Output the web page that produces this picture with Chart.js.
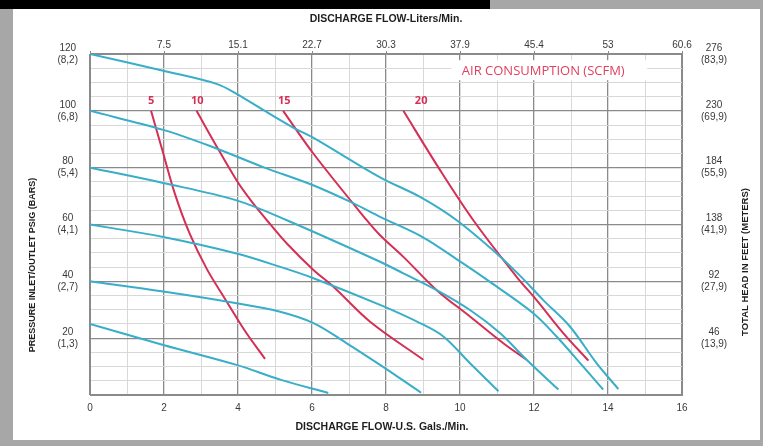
<!DOCTYPE html>
<html>
<head>
<meta charset="utf-8">
<script src="https://cdn.jsdelivr.net/npm/chart.js@4.4.1/dist/chart.umd.min.js"></script>
<style>
  html, body { margin: 0; padding: 0; }
  body { width: 763px; height: 446px; background: #a7a7a7; position: relative; overflow: hidden; }
  #topbar { position: absolute; left: 0; top: 0; width: 490px; height: 9px; background: #000; }
  #panel { position: absolute; left: 13px; top: 9px; width: 747px; height: 431px; background: #fff; }
  #wrap { position: absolute; left: 0; top: 0; width: 763px; height: 446px; }
</style>
</head>
<body>
<div id="topbar"></div>
<div id="panel"></div>
<div id="wrap"><canvas id="chart"></canvas></div>
<script>
// head curves, [gpm, psig]
const curve120 = [[0,120],[1.98,114.1],[3.42,109.5],[3.96,106],[4.68,100.3],[5.49,94.1],[6.03,90.6],[7.84,76.6],[8.92,69.7],[9.91,61.5],[10.99,49.8],[11.62,42],[12.25,33.4],[12.97,24.1],[13.69,11.2],[14.28,2.1]];
const curve100 = [[0,100],[1.98,93.3],[3.33,87.2],[4.68,80.2],[6.03,73.8],[7.11,67.5],[7.84,62.7],[9,55.5],[10,47],[10.81,39.8],[11.98,28.8],[12.61,20.6],[13.33,10],[13.87,1.9]];
const curve80 = [[0,80],[1.98,74.6],[3.96,68.5],[5.32,61.5],[7.84,46.9],[8.47,42.8],[9.37,36.9],[10.27,29.9],[11.08,21.8],[11.8,12.4],[12.66,1.9]];
const curve60 = [[0,60],[1.98,55.6],[3.96,49.8],[5.14,45.1],[6.04,41.1],[7.84,31.7],[8.92,25.3],[9.55,20.6],[10.27,11.2],[11.04,1.3]];
const curve40 = [[0,40],[1.98,36.4],[3.96,32.3],[5.14,29.3],[6.04,25.3],[6.94,18.2],[7.84,10.6],[8.95,0.8]];
const curve20 = [[0,25],[1.98,17.6],[3.96,10.6],[5.14,5.4],[6.44,0.7]];

// air consumption curves (SCFM)
const air5 = [[1.65,100],[1.95,86.4],[2.3,70.6],[2.7,56.6],[3.16,44.3],[3.65,33.8],[4.19,22.5],[4.73,12.7]];
const air10 = [[2.88,100],[3.33,89.6],[3.96,75.6],[4.41,67.4],[4.78,61.5],[5.32,53.3],[6.04,44],[6.58,38.1],[7.57,25.8],[9.01,12.4]];
const air15 = [[5.22,100],[6.04,84.9],[7.48,61.5],[7.84,56.2],[8.47,48.6],[9.37,36.9],[10.27,27.6],[11.17,18.2],[11.8,12.4]];
const air20 = [[8.47,100],[9.41,80.2],[10.36,61.5],[11.53,41.6],[12.07,33.4],[12.79,21.8],[13.47,12.1]];

const airLabels = ['5', '10', '15', '20'];
const airLabelGpm = [1.65, 2.9, 5.25, 8.95];

// tick labels
const litersLabels = ['7.5', '15.1', '22.7', '30.3', '37.9', '45.4', '53', '60.6'];
const barLabels = ['(1,3)', '(2,7)', '(4,1)', '(5,4)', '(6,8)', '(8,2)'];
const feetLabels = ['46', '92', '138', '184', '230', '276'];
const meterLabels = ['(13,9)', '(27,9)', '(41,9)', '(55,9)', '(69,9)', '(83,9)'];

const BLUE = '#38aec8';
const RED = '#d42f55';
const MAJOR = '#8a8a8a';
const MINOR = '#d8d8d8';

Chart.defaults.font.family = '"Liberation Sans", Arial, sans-serif';
Chart.defaults.color = '#3a3a3a';

const toXY = (pts) => pts.map(([x, y]) => ({ x, y }));
const line = (pts, color) => ({
  data: toXY(pts),
  borderColor: color,
  borderWidth: 2,
  pointRadius: 0,
  showLine: true,
  tension: 0.35,
});

const textPlugin = {
  id: 'texts',
  beforeDatasetsDraw(chart) {
    const { ctx, scales: { x, y } } = chart;
    const cx = x.getPixelForValue(12.25);
    const cy = y.getPixelForValue(114.3);
    ctx.save();
    ctx.fillStyle = '#fff';
    ctx.fillRect(cx - 92, cy - 10, 196, 20);
    ctx.fillStyle = '#e0415f';
    ctx.font = '13px "Open Sans", sans-serif';
    ctx.textAlign = 'center';
    ctx.textBaseline = 'middle';
    ctx.fillText('AIR CONSUMPTION (SCFM)', cx, cy + 1);
    ctx.restore();
  },
  afterDraw(chart) {
    const { ctx, chartArea: area, scales: { x, y } } = chart;
    ctx.save();
    ctx.fillStyle = '#1e1e1e';
    ctx.textAlign = 'center';
    ctx.textBaseline = 'middle';
    const mid = (area.left + area.right) / 2;
    ctx.font = 'bold 10.5px "Liberation Sans", Arial, sans-serif';
    ctx.fillText('DISCHARGE FLOW-Liters/Min.', mid, area.top - 35);
    ctx.fillText('DISCHARGE FLOW-U.S. Gals./Min.', mid - 4, area.bottom + 32);

    ctx.save();
    ctx.font = 'bold 9px "Liberation Sans", Arial, sans-serif';
    ctx.translate(33, 265);
    ctx.rotate(-Math.PI / 2);
    ctx.fillText('PRESSURE INLET/OUTLET PSIG (BARS)', 0, 0);
    ctx.restore();

    ctx.save();
    ctx.font = 'bold 9.5px "Liberation Sans", Arial, sans-serif';
    ctx.translate(745, 262);
    ctx.rotate(-Math.PI / 2);
    ctx.fillText('TOTAL HEAD IN FEET (METERS)', 0, 0);
    ctx.restore();

    ctx.fillStyle = RED;
    ctx.font = 'bold 11px "Open Sans", sans-serif';
    airLabels.forEach((lbl, i) => {
      ctx.fillText(lbl, x.getPixelForValue(airLabelGpm[i]), y.getPixelForValue(100) - 10);
    });
    ctx.restore();
  },
};

new Chart(document.getElementById('chart'), {
  type: 'scatter',
  data: {
    datasets: [
      line(curve120, BLUE), line(curve100, BLUE), line(curve80, BLUE),
      line(curve60, BLUE), line(curve40, BLUE), line(curve20, BLUE),
      line(air5, RED), line(air10, RED), line(air15, RED), line(air20, RED),
    ],
  },
  options: {
    responsive: true,
    maintainAspectRatio: false,
    animation: false,
    layout: { padding: 0 },
    plugins: { legend: { display: false }, tooltip: { enabled: false } },
    scales: {
      x: {
        type: 'linear', position: 'bottom', min: 0, max: 16,
        afterFit: (s) => { s.height = 51; },
        ticks: {
          stepSize: 1, autoSkip: false, maxRotation: 0, padding: 7, font: { size: 10 },
          callback: (v) => (v % 2 === 0 ? String(v) : ''),
        },
        grid: {
          drawTicks: false,
          color: (c) => (c.tick && c.tick.value % 2 === 0 ? MAJOR : MINOR),
          lineWidth: (c) => (c.tick && c.tick.value % 2 === 0 ? 1.3 : 1),
        },
        border: { color: MAJOR },
      },
      x2: {
        type: 'linear', position: 'top', min: 0, max: 16,
        afterFit: (s) => { s.height = 54; },
        ticks: {
          stepSize: 1, autoSkip: false, maxRotation: 0, padding: 0, font: { size: 10 },
          callback: (v) => (v % 2 === 0 && v > 0 ? litersLabels[v / 2 - 1] : ''),
        },
        grid: {
          drawOnChartArea: false, tickLength: 3,
          color: (c) => (c.tick && c.tick.value % 2 === 0 ? MAJOR : 'rgba(0,0,0,0)'),
        },
        border: { color: MAJOR },
      },
      y: {
        type: 'linear', position: 'left', min: 0, max: 120,
        afterFit: (s) => { s.width = 90; },
        ticks: {
          stepSize: 5, autoSkip: false, crossAlign: 'center', padding: 12, font: { size: 10 },
          callback: (v) => (v % 20 === 0 && v > 0 ? [String(v), barLabels[v / 20 - 1]] : ''),
        },
        grid: {
          drawTicks: false,
          color: (c) => (c.tick && c.tick.value % 20 === 0 ? MAJOR : MINOR),
          lineWidth: (c) => (c.tick && c.tick.value % 20 === 0 ? 1.3 : 1),
        },
        border: { color: MAJOR },
      },
      y2: {
        type: 'linear', position: 'right', min: 0, max: 120,
        afterFit: (s) => { s.width = 81; },
        ticks: {
          stepSize: 5, autoSkip: false, crossAlign: 'center', padding: 11, font: { size: 10 },
          callback: (v) => (v % 20 === 0 && v > 0
            ? [feetLabels[v / 20 - 1], meterLabels[v / 20 - 1]] : ''),
        },
        grid: { display: false },
        border: { color: MAJOR },
      },
    },
  },
  plugins: [textPlugin],
});
</script>
</body>
</html>
